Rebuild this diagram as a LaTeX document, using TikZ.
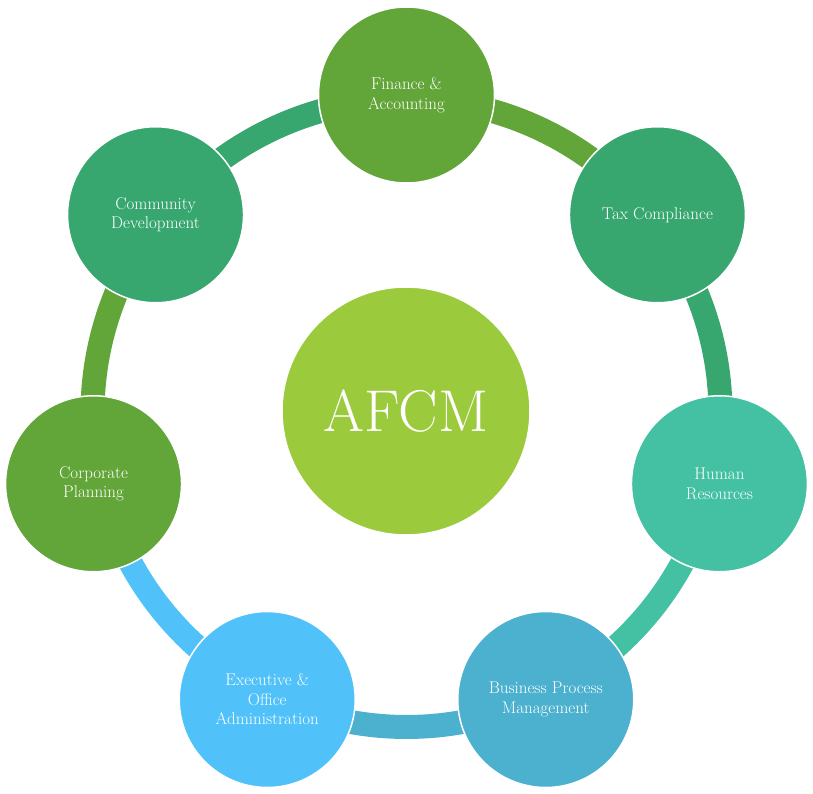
\documentclass[tikz,border=0pt]{standalone}
\definecolor{cgreen}{HTML}{62A538}
\definecolor{cteal}{HTML}{37A76F}
\definecolor{caqua}{HTML}{44C1A3}
\definecolor{cblue}{HTML}{4BB1CF}
\definecolor{csky}{HTML}{51C2F9}
\definecolor{clime}{HTML}{9BCB3C}
\begin{document}
\begin{tikzpicture}[x=1pt,y=1pt,
  sat/.style={circle, minimum size=176pt, inner sep=0pt, draw=white, line width=1.5pt,
    text=white, align=center, font=\fontsize{17}{19.5}\selectfont},
  hub/.style={circle, minimum size=248pt, inner sep=0pt, fill=clime, draw=white, line width=1.5pt,
    text=white, font=\fontsize{59}{64}\selectfont},
  ringseg/.style={line width=24pt}]
\useasboundingbox (-406.5,-380) rectangle (406.5,413);
\def\RX{321}
\def\RY{318}
\def\RR{314}
\coordinate (p1) at (90:\RX pt and \RY pt);
\coordinate (p2) at (38.571:\RX pt and \RY pt);
\coordinate (p3) at (-12.857:\RX pt and \RY pt);
\coordinate (p4) at (-64.286:\RX pt and \RY pt);
\coordinate (p5) at (-115.714:\RX pt and \RY pt);
\coordinate (p6) at (-167.143:\RX pt and \RY pt);
\coordinate (p7) at (141.429:\RX pt and \RY pt);
\coordinate (q1) at (90:\RR);
\coordinate (q2) at (38.571:\RR);
\coordinate (q3) at (-12.857:\RR);
\coordinate (q4) at (-64.286:\RR);
\coordinate (q5) at (-115.714:\RR);
\coordinate (q6) at (-167.143:\RR);
\coordinate (q7) at (141.429:\RR);
\draw[ringseg, cgreen] (q1) arc[start angle=90, end angle=38.571, radius=\RR];
\draw[ringseg, cteal] (q2) arc[start angle=38.571, end angle=-12.857, radius=\RR];
\draw[ringseg, caqua] (q3) arc[start angle=-12.857, end angle=-64.286, radius=\RR];
\draw[ringseg, cblue] (q4) arc[start angle=-64.286, end angle=-115.714, radius=\RR];
\draw[ringseg, csky] (q5) arc[start angle=-115.714, end angle=-167.143, radius=\RR];
\draw[ringseg, cgreen] (q6) arc[start angle=-167.143, end angle=-218.571, radius=\RR];
\draw[ringseg, cteal] (q7) arc[start angle=141.429, end angle=90, radius=\RR];
\node[hub] (afcm) at (-0.5,2) {AFCM};
\node[sat, fill=cgreen] (fin) at (p1) {Finance \&\\Accounting};
\node[sat, fill=cteal] (tax) at (p2) {Tax Compliance};
\node[sat, fill=caqua] (hr) at (p3) {Human\\Resources};
\node[sat, fill=cblue] (bpm) at (p4) {Business Process\\Management};
\node[sat, fill=csky] (exec) at (p5) {Executive \&\\Office\\Administration};
\node[sat, fill=cgreen] (corp) at (p6) {Corporate\\Planning};
\node[sat, fill=cteal] (comm) at (p7) {Community\\Development};
\end{tikzpicture}
\end{document}
